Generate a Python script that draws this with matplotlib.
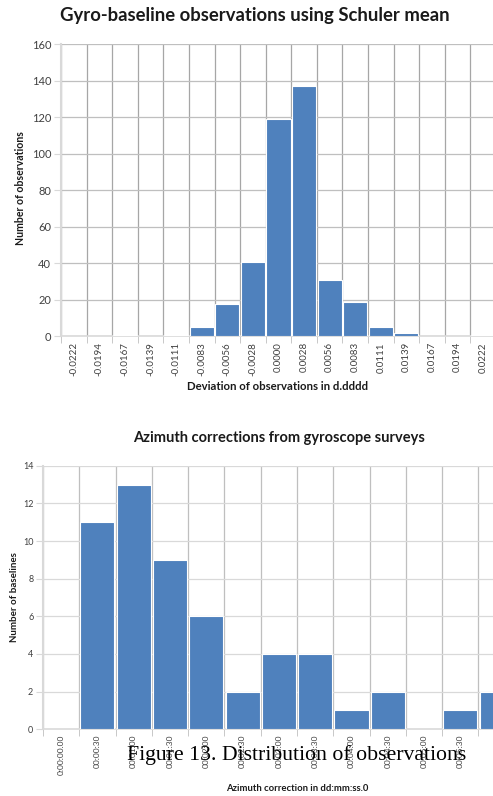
import matplotlib.pyplot as plt

# data: top histogram (deviation of observations)
dev_labels = ['-0.0222', '-0.0194', '-0.0167', '-0.0139', '-0.0111', '-0.0083',
              '-0.0056', '-0.0028', '0.0000', '0.0028', '0.0056', '0.0083',
              '0.0111', '0.0139', '0.0167', '0.0194', '0.0222']
dev_counts = [0, 0, 1, 0, 1, 5, 18, 41, 119, 137, 31, 19, 5, 2, 0, 0, 1]

# data: bottom histogram (azimuth corrections); last bin label is cut off in the source
azi_labels = ['0:00:00.00', '00:00:30', '00:01:00', '00:01:30', '00:02:00',
              '00:02:30', '00:03:00', '00:03:30', '00:04:00', '00:04:30',
              '00:05:00', '00:05:30', '']
azi_counts = [0, 11, 13, 9, 6, 2, 4, 4, 1, 2, 0, 1, 2]

bar_color = '#4F81BD'
plt.rcParams['font.family'] = ['Lato', 'DejaVu Sans']

fig = plt.figure(figsize=(4.93, 7.96), dpi=100)


def histo(ax, labels, counts, ymax, ystep, hgrid, vgrid, ytick_size, xtick_size):
    n = len(labels)
    x = list(range(n))
    ax.bar(x, counts, width=0.94, color=bar_color, edgecolor='white', linewidth=0.8, zorder=3)
    ax.set_xlim(-0.5, n - 0.5)
    ax.set_ylim(0, ymax)
    ax.set_yticks(range(0, ymax + 1, ystep))
    ax.tick_params(axis='y', length=5, color='#d9d9d9', labelsize=ytick_size,
                   labelcolor='#404040', pad=2)
    ax.set_xticks(x)
    ax.set_xticklabels(labels, rotation=90, fontsize=xtick_size, color='#404040')
    ax.tick_params(axis='x', which='major', length=0, pad=4)
    ax.set_xticks([i - 0.5 for i in range(n + 1)], minor=True)
    ax.tick_params(axis='x', which='minor', length=5, color='#bfbfbf')
    ax.grid(axis='y', which='major', color=hgrid, linewidth=0.9, zorder=0)
    ax.grid(axis='x', which='minor', color=vgrid, linewidth=0.9, zorder=0)
    for s in ['top', 'right']:
        ax.spines[s].set_visible(False)
    ax.spines['left'].set_color('#d9d9d9')
    ax.spines['left'].set_linewidth(1.5)
    ax.spines['bottom'].set_color('#d9d9d9')
    ax.spines['bottom'].set_linewidth(1.2)


# top chart
ax1 = fig.add_axes([0.1237, 0.5773, 0.8824, 0.3674])
histo(ax1, dev_labels, dev_counts, 160, 20, '#bfbfbf', '#a6a6a6', 8, 7)
fig.text(0.517, 0.981, 'Gyro-baseline observations using Schuler mean',
         ha='center', va='center', fontsize=13.3, fontweight='bold', color='#1a1a1a')
fig.text(0.041, 0.764, 'Number of observations', rotation=90, ha='center', va='center',
         fontsize=7.6, fontweight='bold', color='#1a1a1a')
fig.text(0.564, 0.514, 'Deviation of observations in d.dddd', ha='center', va='center',
         fontsize=8.2, fontweight='bold', color='#1a1a1a')

# bottom chart
ax2 = fig.add_axes([0.0872, 0.0838, 0.957, 0.3311])
histo(ax2, azi_labels, azi_counts, 14, 2, '#d9d9d9', '#bfbfbf', 6.5, 6)
fig.text(0.566, 0.450, 'Azimuth corrections from gyroscope surveys',
         ha='center', va='center', fontsize=10.5, fontweight='bold', color='#1a1a1a')
fig.text(0.030, 0.250, 'Number of baselines', rotation=90, ha='center', va='center',
         fontsize=7, fontweight='bold', color='#1a1a1a')
fig.text(0.602, 0.009, 'Azimuth correction in dd:mm:ss.0', ha='center', va='center',
         fontsize=6.8, fontweight='bold', color='#1a1a1a')

# figure caption overlapping the lower axis labels
fig.text(0.602, 0.052, 'Figure 13. Distribution of observations', ha='center', va='center',
         fontsize=15.7, family='Liberation Serif', color='black')

fig.savefig('out.png', dpi=100)
